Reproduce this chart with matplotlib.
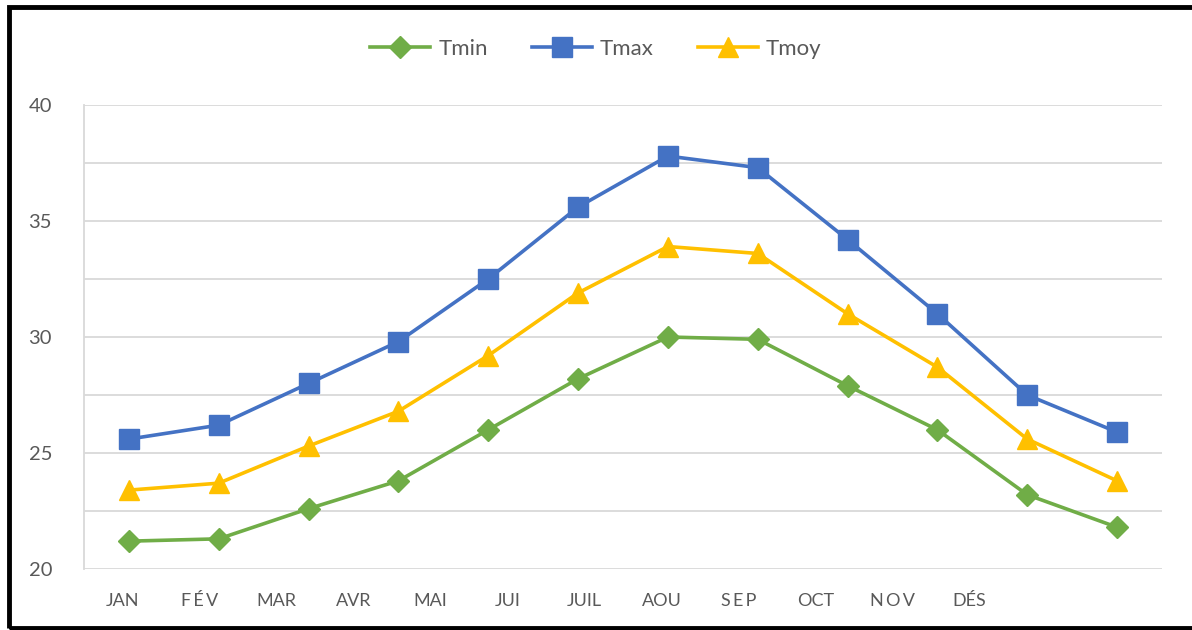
import numpy as np
import matplotlib.pyplot as plt
from matplotlib.patches import Rectangle

plt.rcParams['font.family'] = ['Lato', 'DejaVu Sans']

# mois (étiquettes de l'axe)
mois = ['JAN', 'F\u2009É\u2009V', 'MAR', 'AVR', 'MAI', 'JUI', 'JUIL',
        'AOU', 'S\u2009E\u2009P', 'OCT', 'N\u2009O\u2009V', 'DÉS']

# températures
tmin = [21.2, 21.3, 22.6, 23.8, 26.0, 28.2, 30.0, 29.9, 27.9, 26.0, 23.2, 21.8]
tmax = [25.6, 26.2, 28.0, 29.8, 32.5, 35.6, 37.8, 37.3, 34.2, 31.0, 27.5, 25.9]
tmoy = [23.4, 23.7, 25.3, 26.8, 29.2, 31.9, 33.9, 33.6, 31.0, 28.7, 25.6, 23.8]

fig = plt.figure(figsize=(11.92, 6.3), dpi=100)
ax = fig.add_axes([84/1192, 1-569/630, (1162-84)/1192, (569-105)/630])

x = np.arange(len(tmin))
ax.plot(x, tmin, '-D', color='#70AD47', lw=2.6, ms=11, label='Tmin')
ax.plot(x, tmax, '-s', color='#4472C4', lw=2.6, ms=14, label='Tmax')
ax.plot(x, tmoy, '-^', color='#FFC000', lw=2.6, ms=14, label='Tmoy')

ax.set_xlim(-0.5, 11.5)
ax.set_ylim(20, 40)
ax.set_yticks([20, 25, 30, 35, 40])
ax.set_yticks(np.arange(20, 40.1, 2.5), minor=True)
ax.grid(axis='y', which='both', color='#D9D9D9', lw=1.3)
ax.set_axisbelow(True)

# les étiquettes sont décalées par rapport aux points (14 cases)
pos = -0.5 + (np.arange(12) + 0.5) * 12 / 14
ax.set_xticks(pos)
ax.set_xticklabels(mois, fontsize=13)
ax.tick_params(axis='both', which='both', length=0, colors='#595959')
ax.tick_params(axis='y', labelsize=14.5, pad=23)
ax.tick_params(axis='x', pad=17)

for s in ['top', 'right', 'bottom']:
    ax.spines[s].set_visible(False)
ax.spines['left'].set_color('#D9D9D9')
ax.spines['left'].set_linewidth(1.3)

ax.legend(loc='center', bbox_to_anchor=(0.5, 1 - 49/630), bbox_transform=fig.transFigure,
          ncol=3, frameon=False, fontsize=16, handlelength=2.7, columnspacing=2.0,
          handletextpad=0.35, labelcolor='#595959')

# cadre noir autour de l'image
fig.patches.append(Rectangle((9/1192, 2/630), 1.2, 1 - 9/630, transform=fig.transFigure,
                             fill=False, ec='black', lw=3.5))

fig.savefig('out.png', dpi=100)
